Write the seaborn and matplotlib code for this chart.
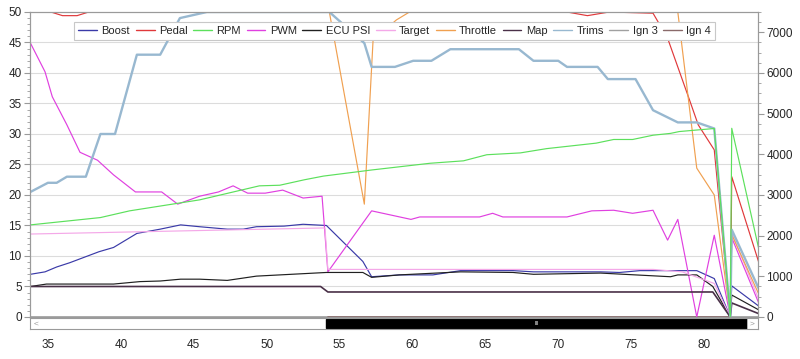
import matplotlib
matplotlib.use("Agg")
import matplotlib.pyplot as plt
import seaborn as sns
import pandas as pd
from matplotlib.lines import Line2D
from matplotlib.patches import Rectangle

# ---- data (left axis units, RPM on right axis) ----
boost_t = [33.8, 34.8, 35.6, 36.5, 38.5, 39.5, 41.1, 42.7, 44.1, 45.4, 47.3, 48.4, 49.3, 51.2, 52.5, 54.1,
           56.6, 57.2, 59.1, 61.4, 63.3, 66.9, 68.3, 72.9, 74.2, 75.6, 79.5, 80.7, 81.8, 81.9, 83.8]
boost = [7.0, 7.4, 8.2, 8.9, 10.7, 11.4, 13.7, 14.4, 15.1, 14.8, 14.4, 14.4, 14.8, 14.9, 15.2, 15.0,
         9.1, 6.6, 6.9, 6.9, 7.6, 7.6, 7.4, 7.4, 7.3, 7.6, 7.6, 6.3, 0.0, 5.1, 1.7]

pedal_t = [33.8, 35.2, 36.0, 37.0, 37.8, 70.6, 72.0, 73.5, 76.5, 77.5, 79.0, 79.6, 80.7, 81.8, 81.9, 83.8]
pedal = [50, 50, 49.4, 49.4, 50, 50, 49.4, 50, 49.8, 45.7, 35.6, 31.5, 27.4, 0.0, 23.0, 8.6]

rpm_t = [33.8, 38.6, 40.6, 45.4, 49.5, 50.9, 52.6, 53.9, 57.2, 61.2, 63.5, 65.1, 67.4, 69.2, 72.6, 73.8,
         75.1, 76.5, 77.7, 78.3, 80.7, 81.8, 81.9, 83.8]
rpm = [2265, 2445, 2610, 2880, 3225, 3240, 3375, 3465, 3615, 3780, 3840, 3990, 4035, 4140, 4275, 4365,
       4365, 4470, 4515, 4560, 4635, 0, 4640, 1600]

pwm_t = [33.8, 34.8, 35.3, 36.3, 37.2, 38.4, 39.5, 41.0, 42.8, 43.9, 45.4, 46.7, 47.7, 48.7, 49.9, 51.1,
         52.5, 53.8, 54.2, 57.2, 59.9, 60.5, 64.6, 65.5, 66.2, 70.6, 72.3, 73.8, 75.1, 76.5, 77.5, 78.2,
         79.5, 80.7, 81.8, 81.9, 83.8]
pwm = [44.9, 40.2, 36.1, 31.5, 27.0, 25.7, 23.3, 20.5, 20.5, 18.5, 19.8, 20.5, 21.5, 20.3, 20.3, 20.8,
       19.5, 19.8, 7.4, 17.4, 16.0, 16.4, 16.4, 17.0, 16.4, 16.4, 17.4, 17.5, 17.0, 17.5, 12.6, 16.0,
       0.0, 13.4, 0.0, 13.0, 2.0]

ecu_t = [33.8, 34.9, 39.5, 41.3, 42.7, 44.1, 45.4, 47.3, 49.3, 54.1, 56.6, 57.2, 59.1, 63.3, 66.9, 68.3,
         72.9, 77.7, 78.2, 79.5, 80.6, 81.8, 81.9, 83.8]
ecu_psi = [5.0, 5.4, 5.4, 5.8, 5.9, 6.2, 6.2, 6.0, 6.7, 7.3, 7.3, 6.5, 6.9, 7.4, 7.3, 7.0,
           7.2, 6.6, 6.9, 6.9, 5.0, 0.0, 3.6, 1.1]

target_t = [33.8, 54.0, 54.2, 76.5, 78.5, 80.7, 81.8, 81.9, 83.8]
target = [13.6, 14.6, 7.8, 7.8, 7.4, 5.5, 0.0, 13.8, 2.6]

throttle_t = [33.8, 54.3, 56.7, 57.3, 58.9, 59.8, 78.2, 79.5, 80.7, 81.8, 81.9, 83.8]
throttle = [50, 50, 18.5, 45.4, 48.7, 50, 50, 24.4, 20.0, 0.0, 13.5, 3.5]

map_t = [33.8, 53.7, 54.2, 80.6, 81.8, 81.9, 83.8]
map_v = [5.0, 5.0, 4.1, 4.1, 0.0, 2.3, 0.5]

trims_t = [33.8, 35.0, 35.6, 36.3, 37.6, 38.6, 39.6, 41.1, 42.7, 44.05, 45.9, 54.3, 56.7, 57.2, 58.8,
           60.05, 61.3, 62.6, 67.3, 68.3, 70.0, 70.6, 72.7, 73.4, 75.3, 76.5, 78.2, 79.5, 80.7, 81.8,
           81.9, 83.8]
trims = [20.5, 22.0, 22.0, 23.0, 23.0, 30.0, 30.0, 43.0, 43.0, 49.0, 50.0, 50.0, 44.9, 41.0, 41.0,
         42.0, 42.0, 43.9, 43.9, 42.0, 42.0, 41.0, 41.0, 39.0, 39.0, 33.9, 31.9, 31.9, 30.9, 0.0,
         14.3, 4.4]

ign3_t = [33.8, 83.8]
ign3 = [0, 0]
ign4_t = [54.2, 81.8]
ign4 = [0, 0]

names = ["Boost", "Pedal", "RPM", "PWM", "ECU PSI", "Target", "Throttle", "Map", "Trims", "Ign 3", "Ign 4"]
colors = {"Boost": "#3a3aa8", "Pedal": "#e0383a", "RPM": "#5ce05c", "PWM": "#e040e0",
          "ECU PSI": "#202020", "Target": "#f4a8e8", "Throttle": "#f0a050", "Map": "#4a3048",
          "Trims": "#98b8d0", "Ign 3": "#a0a0a0", "Ign 4": "#8a6a6a"}
widths = {n: 0.85 for n in names}
widths["Trims"] = 1.7
widths["Map"] = 1.2
widths["Ign 3"] = 1.2
widths["Ign 4"] = 1.2

series = {"Boost": (boost_t, boost), "Pedal": (pedal_t, pedal), "PWM": (pwm_t, pwm),
          "ECU PSI": (ecu_t, ecu_psi), "Target": (target_t, target), "Throttle": (throttle_t, throttle),
          "Map": (map_t, map_v), "Trims": (trims_t, trims), "Ign 3": (ign3_t, ign3), "Ign 4": (ign4_t, ign4)}

rows = []
for name, (t, v) in series.items():
    rows += [{"time": a, "value": b, "series": name} for a, b in zip(t, v)]
df = pd.DataFrame(rows)
df_rpm = pd.DataFrame({"time": rpm_t, "rpm": rpm})

sns.set_style("white")
plt.rcParams['font.family'] = ['Liberation Sans', 'DejaVu Sans']

fig = plt.figure(figsize=(8, 3.59), dpi=100)
ax = fig.add_axes([0.0375, 0.117, 0.91, 0.8496])
ax2 = ax.twinx()
sb = fig.add_axes([0.0375, 0.0836, 0.91, 0.0306], sharex=ax)

# draw order: ignition first, then the rest in legend order
order = ["Ign 3", "Ign 4", "Boost", "Pedal", "PWM", "ECU PSI", "Target", "Map", "Throttle", "Trims"]
for name in order:
    sub = df[df["series"] == name]
    sns.lineplot(data=sub, x="time", y="value", color=colors[name], linewidth=widths[name],
                 sort=False, estimator=None, ax=ax)

sns.lineplot(data=df_rpm, x="time", y="rpm", color=colors["RPM"], linewidth=widths["RPM"],
             sort=False, estimator=None, ax=ax2)

grey = "#9a9a9a"
ax.set_xlim(33.77, 83.7)
ax.set_ylim(0, 50)
ax2.set_ylim(0, 7500)
ax.set_yticks(range(0, 51, 5))
ax.set_yticks(range(0, 51, 1), minor=True)
ax2.set_yticks(range(0, 7001, 1000))
ax2.set_yticks(range(0, 7501, 250), minor=True)
for y in range(5, 50, 5):
    ax.axhline(y, color="#dcdcdc", linewidth=0.8, zorder=0)

ax.set_xlabel("")
ax.set_ylabel("")
ax2.set_ylabel("")
ax.tick_params(axis="x", which="both", bottom=False, labelbottom=False)
ax.tick_params(axis="y", which="major", direction="out", length=4, width=0.8, color=grey,
               labelsize=8.5, pad=2, left=True)
ax.tick_params(axis="y", which="minor", direction="out", length=2, width=0.6, color=grey, left=True)
ax2.tick_params(axis="y", which="major", direction="out", length=4, width=0.8, color=grey,
                labelsize=8.5, pad=2, right=True)
ax2.tick_params(axis="y", which="minor", direction="out", length=2, width=0.6, color=grey, right=True)
for a in (ax, ax2):
    for s in a.spines.values():
        s.set_color(grey)
        s.set_linewidth(0.8)

# scrollbar strip carrying the x axis
sb.set_ylim(0, 1)
sb.set_yticks([])
sb.set_xticks(range(35, 81, 5))
sb.set_xticks([v / 2 for v in range(68, 168)], minor=True)
sb.tick_params(axis="x", which="major", direction="out", length=4, width=0.8, color=grey,
               labelsize=8.5, pad=3)
sb.tick_params(axis="x", which="minor", direction="out", length=2, width=0.6, color=grey)
for s in sb.spines.values():
    s.set_color(grey)
    s.set_linewidth(0.8)
sb.add_patch(Rectangle((0.4066, 0.12), 0.5784, 0.76, transform=sb.transAxes, color="black"))
sb.add_patch(Rectangle((0.985, 0.0), 0.015, 1.0, transform=sb.transAxes, facecolor="white",
                       edgecolor="#bbbbbb", linewidth=0.6))
sb.text(0.696, 0.5, "III", transform=sb.transAxes, color="white", fontsize=4, ha="center",
        va="center")
sb.text(0.008, 0.45, "<", transform=sb.transAxes, color="#999999", fontsize=6, ha="center",
        va="center")
sb.text(0.9925, 0.45, ">", transform=sb.transAxes, color="#999999", fontsize=6, ha="center",
        va="center")

handles = [Line2D([0], [0], color=colors[n], linewidth=1.0) for n in names]
leg = ax2.legend(handles, names, loc="upper center", bbox_to_anchor=(0.501, 0.985), ncol=11,
                 fontsize=8, frameon=True, fancybox=False, edgecolor="#c8c8c8", framealpha=1,
                 handlelength=1.7, handletextpad=0.4, columnspacing=0.5, borderpad=0.35)
leg.get_frame().set_linewidth(0.8)

fig.savefig("out.png", dpi=100)
